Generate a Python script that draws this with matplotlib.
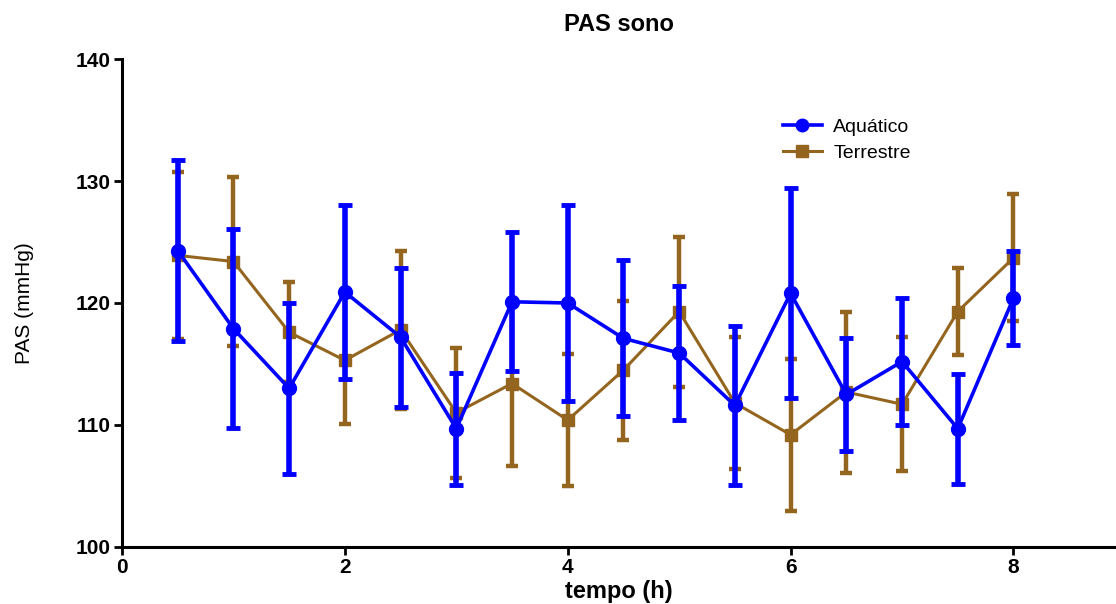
"""PAS sono: mean +/- SD per half hour, aquatic vs terrestrial."""
import matplotlib
matplotlib.use("Agg")
import matplotlib.pyplot as plt
from matplotlib import font_manager
from matplotlib.lines import Line2D

tempo = [0.5, 1.0, 1.5, 2.0, 2.5, 3.0, 3.5, 4.0, 4.5, 5.0, 5.5, 6.0, 6.5, 7.0, 7.5, 8.0]

aquatico_mean = [124.3, 117.9, 113.0, 120.9, 117.2, 109.7, 120.1, 120.0,
                 117.1, 115.9, 111.6, 120.8, 112.5, 115.2, 109.7, 120.4]
aquatico_sd = [7.4, 8.15, 7.0, 7.15, 5.7, 4.6, 5.7, 8.0,
               6.4, 5.5, 6.5, 8.6, 4.65, 5.2, 4.5, 3.85]

terrestre_mean = [123.9, 123.4, 117.6, 115.3, 117.8, 111.0, 113.4, 110.4,
                  114.5, 119.3, 111.8, 109.2, 112.7, 111.7, 119.3, 123.7]
terrestre_sd = [6.85, 6.9, 4.1, 5.2, 6.5, 5.35, 6.8, 5.4,
                5.7, 6.15, 5.4, 6.25, 6.6, 5.5, 3.6, 5.2]

BLUE = "#0000FF"
BROWN = "#94651F"

names = {f.name for f in font_manager.fontManager.ttflist}
narrow = "Liberation Sans Narrow" if "Liberation Sans Narrow" in names else "Liberation Sans"
plt.rcParams["font.family"] = [narrow, "DejaVu Sans"]

fig = plt.figure(figsize=(11.16, 6.04), dpi=100)
ax = fig.add_axes([0.1093, 0.0944, 0.8907, 0.8079])

# brown first so the blue bars sit on top, as in the original
ax.errorbar(tempo, terrestre_mean, yerr=terrestre_sd, color=BROWN, marker="s",
            markersize=9, linewidth=2.2, elinewidth=3.2, capsize=4.5,
            capthick=3.2, zorder=2)
ax.errorbar(tempo, aquatico_mean, yerr=aquatico_sd, color=BLUE, marker="o",
            markersize=10, linewidth=2.6, elinewidth=4, capsize=5,
            capthick=3.5, zorder=3)

ax.set_xlim(0, 8.92)
ax.set_ylim(100, 140)
ax.set_xticks([0, 2, 4, 6, 8])
ax.set_yticks([100, 110, 120, 130, 140])

for side in ("top", "right"):
    ax.spines[side].set_visible(False)
for side in ("left", "bottom"):
    ax.spines[side].set_linewidth(2.2)
    ax.spines[side].set_zorder(4)
ax.tick_params(direction="out", length=6, width=2, labelsize=15, pad=2)
for lbl in ax.get_xticklabels() + ax.get_yticklabels():
    lbl.set_fontweight("bold")

ax.set_title("PAS sono", fontsize=17, fontweight="bold", pad=20,
             family=["Liberation Sans", "DejaVu Sans"])
ax.set_xlabel("tempo (h)", fontsize=17, fontweight="bold", labelpad=2)
ax.set_ylabel("PAS (mmHg)", fontsize=15, labelpad=30)

handles = [
    Line2D([], [], color=BLUE, marker="o", markersize=9, linewidth=2.6),
    Line2D([], [], color=BROWN, marker="s", markersize=8, linewidth=2.2),
]
ax.legend(handles, ["Aquático", "Terrestre"], loc="upper left",
          bbox_to_anchor=(0.657, 0.895), frameon=False,
          handlelength=2.0, handletextpad=0.6, labelspacing=0.45, borderaxespad=0,
          prop={"family": ["Liberation Sans", "DejaVu Sans"], "size": 14})

fig.savefig("out.png", dpi=100)
